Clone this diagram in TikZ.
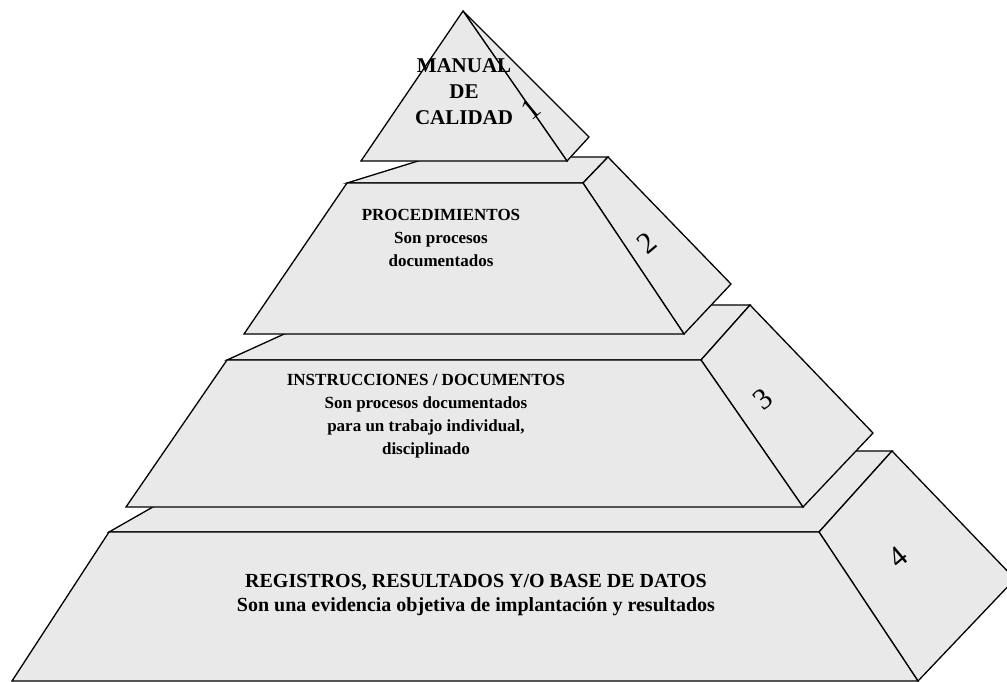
\documentclass[tikz,border=0pt]{standalone}
\usepackage{fontspec}
\setmainfont{Liberation Serif}
\definecolor{facegray}{RGB}{233,233,233}
\tikzset{
  face/.style={draw=black, fill=facegray, line width=1.3pt, line join=miter},
  tiertext/.style={font=\bfseries\fontsize{17}{23}\selectfont, align=center, inner sep=0pt},
  basetext/.style={font=\bfseries\fontsize{20}{24}\selectfont, align=center, inner sep=0pt},
  toptext/.style={font=\bfseries\fontsize{21}{26}\selectfont, align=center, inner sep=0pt},
  tiernum/.style={font=\fontsize{30}{30}\selectfont, rotate=40, inner sep=0pt}
}

\begin{document}
\begin{tikzpicture}[x=1pt, y=-1pt]
			%%%%% START %%%%%
			\useasboundingbox (0, 0) rectangle (1007, 681);
			\clip (0, 0) rectangle (1007, 681);
			
			% tier 4
			\draw[face] (109, 532) -- (819, 532) -- (892, 451) -- (251, 451) -- cycle;
			\draw[face] (819, 532) -- (892, 451) -- (1015, 579) -- (918, 681) -- cycle;
			\draw[face] (109, 532) -- (819, 532) -- (918, 681) -- (12, 681) -- cycle;
			
			% tier 3
			\draw[face] (227, 360) -- (701, 360) -- (750, 305) -- (348, 305) -- cycle;
			\draw[face] (701, 360) -- (750, 305) -- (873, 433) -- (803, 507) -- cycle;
			\draw[face] (227, 360) -- (701, 360) -- (803, 507) -- (126, 507) -- cycle;
			
			% tier 2
			\draw[face] (347, 183) -- (583, 183) -- (608, 157) -- (431, 157) -- cycle;
			\draw[face] (583, 183) -- (608, 157) -- (731, 284) -- (684, 334) -- cycle;
			\draw[face] (347, 183) -- (583, 183) -- (684, 334) -- (244, 334) -- cycle;
			
			% tier 1
			\draw[face] (463, 11) -- (589, 137) -- (567, 161) -- cycle;
			\draw[face] (463, 11) -- (567, 161) -- (361, 161) -- cycle;
			
			\node[toptext] (manual) at (464, 92) {MANUAL\\DE\\CALIDAD};
			\node[tiertext] (proc) at (441, 238) {PROCEDIMIENTOS\\Son procesos\\documentados};
			\node[tiertext] (instr) at (426, 416) {INSTRUCCIONES / DOCUMENTOS\\Son procesos documentados\\para un trabajo individual,\\disciplinado};
			\node[basetext] (reg) at (476, 595) {REGISTROS, RESULTADOS Y/O BASE DE DATOS\\Son una evidencia objetiva de implantación y resultados};
			
			\node[tiernum] (n1) at (531, 109) {1};
			\node[tiernum] (n2) at (647, 243) {2};
			\node[tiernum] (n3) at (763, 399) {3};
			\node[tiernum] (n4) at (898, 557) {4};
			%%%%% END %%%%%
\end{tikzpicture}
\end{document}
